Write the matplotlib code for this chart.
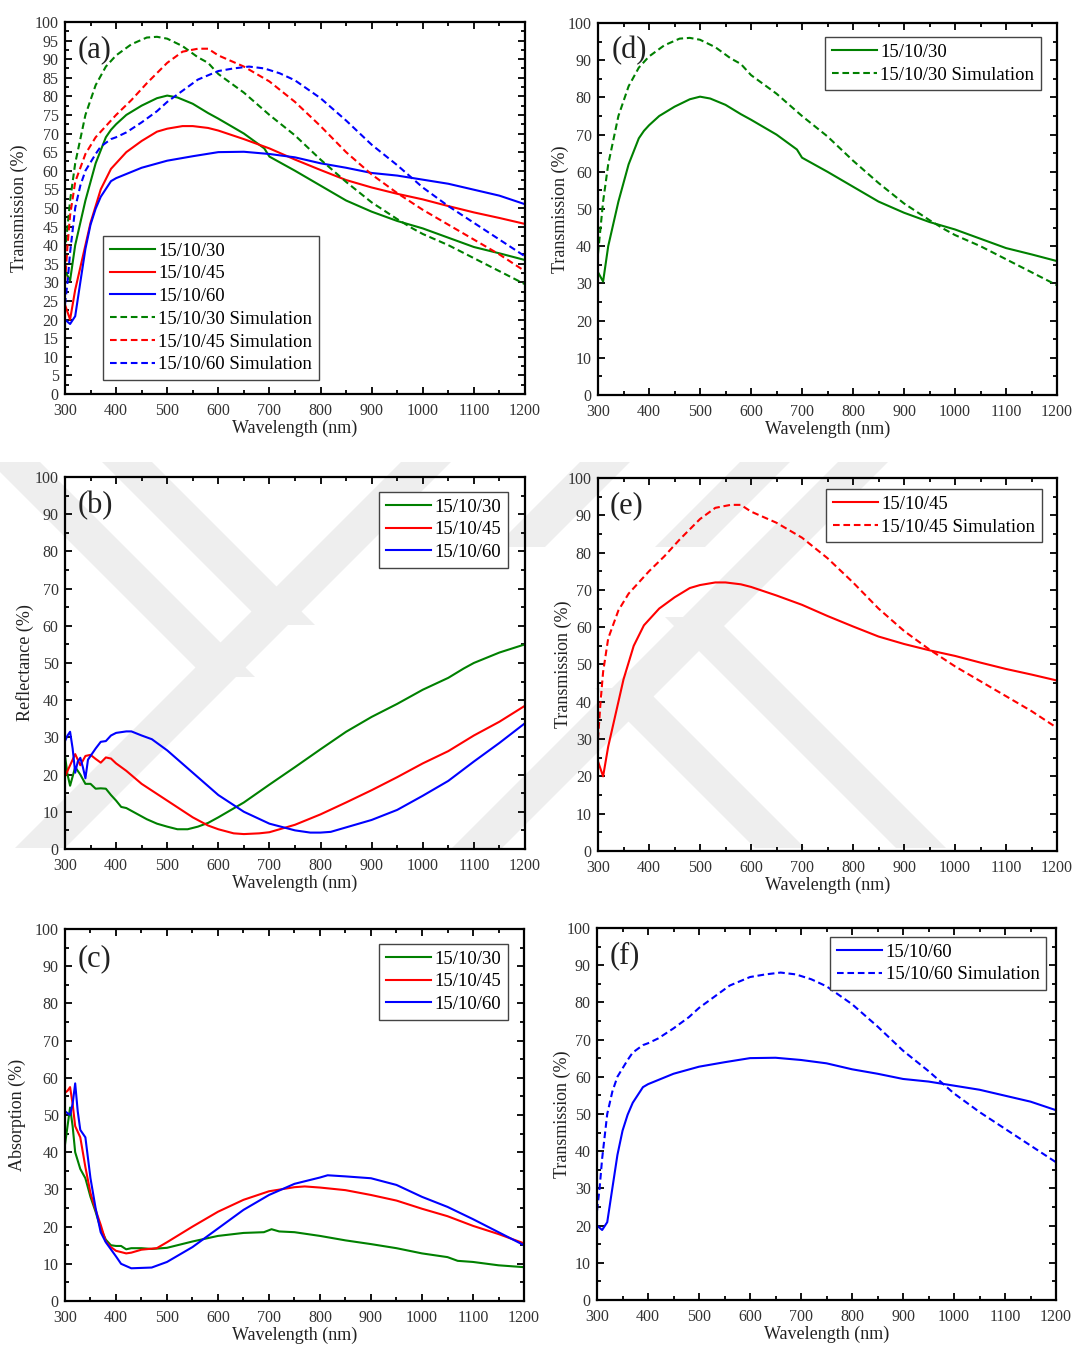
import matplotlib.pyplot as plt
from matplotlib.patches import Polygon
from matplotlib.ticker import MultipleLocator

plt.rcParams['font.family'] = ['Liberation Serif', 'DejaVu Serif']

GREEN = '#008000'
RED = '#ff0000'
BLUE = '#0000ff'

# ---- transmission, measured ----
wl_t30 = [300, 310, 320, 340, 360, 380, 390, 400, 420, 450, 480, 500, 520, 550, 580, 600, 650, 690, 700,
          750, 800, 850, 900, 950, 1000, 1050, 1100, 1150, 1200]
t30 = [33, 30.5, 40, 52, 62, 69, 71, 72.5, 75, 77.5, 79.5, 80.2, 79.7, 78, 75.5, 74, 70, 66, 63.8,
       60, 56, 52, 49, 46.5, 44.5, 42, 39.5, 37.8, 36]
wl_t45 = [300, 310, 320, 340, 350, 370, 390, 400, 420, 450, 480, 500, 530, 550, 580, 600, 650, 700,
          750, 800, 850, 900, 950, 1000, 1050, 1100, 1150, 1200]
t45 = [24, 20, 28, 40, 46, 55, 60.5, 62, 65, 68, 70.5, 71.3, 72, 72, 71.5, 70.8, 68.5, 66,
       63, 60.2, 57.5, 55.5, 53.8, 52.3, 50.5, 48.8, 47.3, 45.7]
wl_t60 = [300, 310, 320, 330, 340, 350, 360, 370, 390, 400, 450, 500, 550, 600, 650, 700, 750, 800,
          850, 900, 950, 1000, 1050, 1100, 1150, 1200]
t60 = [20, 18.8, 20.9, 30, 39, 45.5, 49.8, 53, 57.2, 58, 60.8, 62.7, 63.9, 65, 65.1, 64.5, 63.6, 62,
       60.8, 59.4, 58.7, 57.6, 56.5, 54.9, 53.3, 51]

# ---- transmission, simulation ----
wl_s30 = [300, 305, 310, 320, 340, 360, 380, 400, 430, 460, 480, 500, 530, 560, 580, 600, 650, 700,
          750, 800, 850, 900, 950, 980, 1000, 1050, 1100, 1150, 1200]
s30 = [38, 45, 52, 62, 75, 83, 88, 91, 94, 95.8, 96, 95.5, 93.5, 90.5, 89, 86, 81, 75,
       69.5, 63, 57, 51.5, 47, 44.5, 43, 40, 36.5, 33, 29.5]
wl_s45 = [300, 305, 310, 320, 340, 360, 380, 400, 430, 460, 500, 530, 560, 580, 600, 650, 700, 750,
          800, 850, 900, 950, 1000, 1050, 1100, 1150, 1200]
s45 = [30, 40, 48, 57, 64.5, 69, 72, 75, 79, 83.5, 89, 92, 92.8, 92.8, 91, 88, 84, 78.5,
       72, 65, 59, 54, 49.5, 45.5, 41.5, 37.5, 33]
wl_s60 = [300, 305, 310, 320, 330, 340, 360, 370, 390, 400, 420, 450, 480, 500, 530, 560, 600, 630,
          660, 690, 720, 750, 800, 850, 900, 950, 1000, 1050, 1100, 1150, 1200]
s60 = [24, 30, 38, 50, 56, 60, 64.5, 66.5, 68.5, 69, 70.3, 73, 76, 78.5, 81.5, 84.5, 86.8, 87.5,
       88, 87.5, 86.2, 84.3, 79.5, 73.5, 67, 61.5, 55.5, 50.5, 46, 41.5, 37]

# ---- reflectance ----
wl_r30 = [300, 305, 310, 315, 320, 330, 340, 350, 360, 370, 380, 390, 400, 410, 420, 440, 460, 480,
          500, 520, 540, 560, 580, 600, 650, 700, 750, 800, 850, 900, 950, 1000, 1050, 1080, 1100,
          1150, 1200]
r30 = [25, 20, 17, 19.5, 22, 20, 17.5, 17.5, 16.2, 16.3, 16.2, 14.5, 13, 11.3, 11, 9.5, 8, 6.8,
       6, 5.3, 5.3, 6, 7, 8.5, 12.5, 17.3, 22, 26.8, 31.5, 35.5, 39, 42.8, 46, 48.5, 50,
       52.8, 55]
wl_r45 = [300, 310, 320, 330, 340, 350, 360, 370, 380, 390, 400, 420, 450, 500, 550, 580, 600, 630,
          650, 680, 700, 720, 750, 800, 850, 900, 950, 1000, 1050, 1100, 1150, 1200]
r45 = [19.5, 22.5, 25.5, 22.5, 25, 25.3, 24.2, 23.2, 24.6, 24.3, 23, 21, 17.5, 13, 8.5, 6.3, 5.3, 4.2,
       4, 4.2, 4.5, 5.3, 6.5, 9.3, 12.5, 15.8, 19.3, 23, 26.3, 30.5, 34.2, 38.5]
wl_r60 = [300, 305, 310, 315, 320, 325, 330, 335, 340, 345, 350, 360, 370, 380, 390, 400, 420, 430,
          450, 470, 500, 550, 600, 650, 700, 750, 780, 800, 820, 850, 900, 950, 1000, 1050, 1100,
          1150, 1200]
r60 = [29, 30.5, 31.5, 27, 20.5, 23.5, 24.5, 22, 19, 24, 25, 27, 28.8, 29, 30.5, 31.2, 31.6, 31.6,
       30.5, 29.5, 26.5, 20.5, 14.5, 10, 6.8, 5.0, 4.4, 4.4, 4.6, 5.8, 7.8, 10.5, 14.3, 18.3, 23.5,
       28.5, 33.8]

# ---- absorption ----
wl_a30 = [300, 305, 310, 315, 320, 330, 340, 350, 360, 370, 380, 390, 400, 410, 420, 430, 450, 470,
          500, 550, 600, 650, 690, 705, 720, 750, 800, 850, 900, 950, 1000, 1050, 1070, 1100, 1150, 1200]
a30 = [42, 47, 52, 47, 40, 35.5, 33, 28, 24, 19.5, 16.5, 15, 14.8, 14.8, 13.9, 14.2, 14.2, 14,
       14.3, 16, 17.5, 18.3, 18.5, 19.3, 18.7, 18.5, 17.5, 16.3, 15.3, 14.2, 12.8, 11.8, 10.8, 10.5,
       9.6, 9.1]
wl_a45 = [300, 305, 310, 315, 320, 330, 340, 350, 360, 370, 380, 390, 400, 420, 430, 450, 480, 500,
          550, 600, 650, 700, 750, 770, 800, 850, 900, 950, 1000, 1050, 1100, 1150, 1200]
a45 = [56, 56.5, 57.5, 53, 47, 44, 36, 29, 24.5, 20.5, 16, 14.5, 13.5, 12.8, 13, 13.8, 14.2, 15.8,
       20, 24, 27.2, 29.5, 30.6, 30.8, 30.5, 29.8, 28.5, 27, 24.8, 22.8, 20.2, 18, 15.5]
wl_a60 = [300, 305, 310, 315, 320, 325, 330, 340, 350, 360, 370, 380, 400, 410, 430, 450, 470, 500,
          550, 600, 650, 700, 750, 800, 815, 850, 900, 950, 1000, 1050, 1100, 1150, 1200]
a60 = [51, 50.5, 50, 53, 58.5, 51, 46, 44, 33, 25, 18.5, 15.8, 12, 10, 8.8, 8.9, 9, 10.5,
       14.5, 19.5, 24.5, 28.5, 31.5, 33.2, 33.8, 33.5, 33, 31.2, 28, 25.3, 22, 18.5, 15]

names = ['15/10/30', '15/10/45', '15/10/60']
sim_names = [n + ' Simulation' for n in names]

fig = plt.figure(figsize=(10.74, 13.45), dpi=100)

# faint chevron watermark behind the middle row (figure pixel coords)
wm = fig.add_axes([0, 0, 1, 1], zorder=-1)
wm.set_xlim(0, 1074)
wm.set_ylim(1345, 0)
wm.axis('off')
# each band: (x at top, y top, x at bottom, y bottom)
bands = [(426, 462, 40, 848),     # long rising band, left
         (863, 462, 477, 848),    # long rising band, right
         (15, 462, 230, 677),     # descending, left outer
         (127, 462, 290, 625),    # descending, left inner
         (690, 617, 921, 848),    # descending, right outer
         (620, 688, 780, 848),    # descending, right inner
         (605, 462, 520, 547),    # short rising stub
         (765, 462, 680, 547)]    # short rising stub
for xt, yt, xb, yb in bands:
    w = 50
    wm.add_patch(Polygon([(xt - w / 2, yt), (xt + w / 2, yt), (xb + w / 2, yb), (xb - w / 2, yb)],
                         closed=True, color='#eeeeee', lw=0))

DASH = (0, (3.2, 1.8))


def make_ax(rect, ylabel, ymaj, ymin, label, lab_xy, ylab_x, xlab_y=-0.068):
    ax = fig.add_axes(rect)
    ax.set_facecolor('none')
    ax.set_xlim(300, 1200)
    ax.set_ylim(0, 100)
    ax.xaxis.set_major_locator(MultipleLocator(100))
    ax.xaxis.set_minor_locator(MultipleLocator(50))
    ax.yaxis.set_major_locator(MultipleLocator(ymaj))
    ax.yaxis.set_minor_locator(MultipleLocator(ymin))
    ax.tick_params(which='both', direction='in', top=True, right=True, width=1.3,
                   labelsize=11.5, labelcolor='#333333')
    ax.tick_params(which='major', length=5)
    ax.tick_params(which='minor', length=3)
    ax.tick_params(axis='x', pad=6.5)
    ax.tick_params(axis='y', pad=4.5)
    for s in ax.spines.values():
        s.set_linewidth(1.6)
    ax.set_xlabel('Wavelength (nm)', fontsize=13, color='#222222')
    ax.set_ylabel(ylabel, fontsize=13, color='#222222')
    ax.xaxis.set_label_coords(0.5, xlab_y)
    ax.yaxis.set_label_coords(ylab_x, 0.5)
    ax.text(lab_xy[0], lab_xy[1], label, transform=ax.transAxes, fontsize=22,
            ha='left', va='center', color='#222222')
    return ax


def legend(ax, **kw):
    leg = ax.legend(fontsize=13.5, handlelength=2.4, handletextpad=0.2, labelspacing=0.3,
                    borderpad=0.35, fancybox=False, framealpha=1, edgecolor='#444444', **kw)
    leg.get_frame().set_linewidth(1.0)
    return leg


LW = 1.5

# (a)
ax = make_ax([0.0605, 0.7071, 0.4283, 0.2766], 'Transmission (%)', 5, 2.5, '(a)', (0.028, 0.925), -0.080)
ax.plot(wl_t30, t30, color=GREEN, lw=LW, label=names[0])
ax.plot(wl_t45, t45, color=RED, lw=LW, label=names[1])
ax.plot(wl_t60, t60, color=BLUE, lw=LW, label=names[2])
ax.plot(wl_s30, s30, color=GREEN, lw=LW, ls=DASH, label=sim_names[0])
ax.plot(wl_s45, s45, color=RED, lw=LW, ls=DASH, label=sim_names[1])
ax.plot(wl_s60, s60, color=BLUE, lw=LW, ls=DASH, label=sim_names[2])
legend(ax, loc='lower left', bbox_to_anchor=(0.083, 0.038), borderaxespad=0)

# (d)
ax = make_ax([0.5568, 0.7063, 0.4274, 0.2766], 'Transmission (%)', 10, 5, '(d)', (0.03, 0.925), -0.063)
ax.plot(wl_t30, t30, color=GREEN, lw=LW, label=names[0])
ax.plot(wl_s30, s30, color=GREEN, lw=LW, ls=DASH, label=sim_names[0])
legend(ax, loc='upper right', bbox_to_anchor=(0.965, 0.962), borderaxespad=0)

# (b)
ax = make_ax([0.0605, 0.3688, 0.4283, 0.2766], 'Reflectance (%)', 10, 5, '(b)', (0.028, 0.922), -0.067)
ax.plot(wl_r30, r30, color=GREEN, lw=LW, label=names[0])
ax.plot(wl_r45, r45, color=RED, lw=LW, label=names[1])
ax.plot(wl_r60, r60, color=BLUE, lw=LW, label=names[2])
legend(ax, loc='upper right', bbox_to_anchor=(0.963, 0.960), borderaxespad=0)

# (e)
ax = make_ax([0.5568, 0.3673, 0.4274, 0.2773], 'Transmission (%)', 10, 5, '(e)', (0.026, 0.925), -0.057)
ax.plot(wl_t45, t45, color=RED, lw=LW, label=names[1])
ax.plot(wl_s45, s45, color=RED, lw=LW, ls=DASH, label=sim_names[1])
legend(ax, loc='upper right', bbox_to_anchor=(0.967, 0.970), borderaxespad=0)

# (c)
ax = make_ax([0.0605, 0.0327, 0.4274, 0.2766], 'Absorption (%)', 10, 5, '(c)', (0.028, 0.919), -0.085)
ax.plot(wl_a30, a30, color=GREEN, lw=LW, label=names[0])
ax.plot(wl_a45, a45, color=RED, lw=LW, label=names[1])
ax.plot(wl_a60, a60, color=BLUE, lw=LW, label=names[2])
legend(ax, loc='upper right', bbox_to_anchor=(0.965, 0.960), borderaxespad=0)

# (f)
ax = make_ax([0.5559, 0.0335, 0.4274, 0.2766], 'Transmission (%)', 10, 5, '(f)', (0.028, 0.925), -0.057)
ax.plot(wl_t60, t60, color=BLUE, lw=LW, label=names[2])
ax.plot(wl_s60, s60, color=BLUE, lw=LW, ls=DASH, label=sim_names[2])
legend(ax, loc='upper right', bbox_to_anchor=(0.978, 0.976), borderaxespad=0)

fig.savefig('out.png', dpi=100)
